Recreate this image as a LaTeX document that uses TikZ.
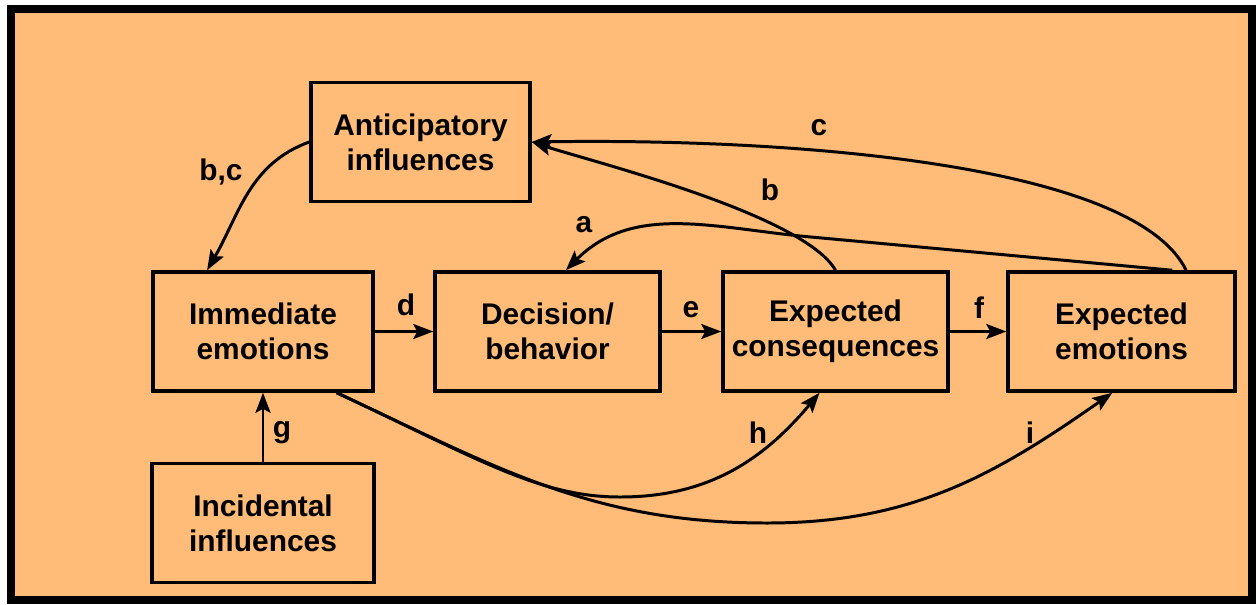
\documentclass[tikz,border=0pt]{standalone}
\usepackage{fontspec}
\setmainfont{Liberation Sans}
\usetikzlibrary{arrows.meta,positioning,calc}
\definecolor{scanorange}{HTML}{FFBB78}

\begin{document}
\begin{tikzpicture}[
  box/.style={draw, line width=2pt, minimum width=4.5cm, minimum height=2.38cm, align=center, inner sep=0pt, font=\bfseries\fontsize{17}{20}\selectfont},
  arr/.style={-{Stealth[length=0.4cm,width=0.3cm,inset=0.08cm]}, line width=1.7pt},
  lbl/.style={font=\bfseries\fontsize{17}{17}\selectfont, inner sep=1pt}
]
  \useasboundingbox (0,0) rectangle (25.12,12.08);
  \draw[line width=0.16cm, fill=scanorange] (0.22,0.08) rectangle (25.04,11.9);
  % boxes
  \node[box, minimum width=4.4cm] (imm) at (5.26,5.45) {Immediate\\emotions};
  \node[box, right=1.17cm of imm] (dec) {Decision/\\behavior};
  \node[box, right=1.19cm of dec] (cons) {Expected\\consequences};
  \node[box, right=1.13cm of cons, minimum width=4.54cm] (emo) {Expected\\emotions};
  \node[box, minimum width=4.38cm] (ant) at (8.41,9.24) {Anticipatory\\influences};
  \node[box, below=1.38cm of imm, minimum width=4.44cm] (inc) {Incidental\\influences};
  % connectors
  \draw[arr] (ant.west) to[out=200,in=60] ($(imm.north west)!0.25!(imm.north east)$);
  \draw[arr] (imm.east) -- (dec.west);
  \draw[arr] (dec.east) -- (cons.west);
  \draw[arr] (cons.east) -- (emo.west);
  \draw[arr] (inc.north) -- (inc.north |- imm.south);
  \draw[arr] ($(emo.north west)!0.72!(emo.north east)$) -- (16.0,7.36) to[out=174,in=45] ($(dec.north west)!0.58!(dec.north east)$);
  \draw[arr] (cons.north) to[out=120,in=-18,looseness=0.5] (ant.east);
  \draw[arr] ($(emo.north west)!0.78!(emo.north east)$) .. controls (22.7,8.78) and (16.0,9.32) .. (ant.east);
  \coordinate (low) at ($(imm.south west)!0.83!(imm.south east)$);
  \draw[arr] (low) .. controls (9.6,2.88) and (10.8,2.14) .. (12.4,2.14) to[out=0,in=230] ($(cons.south west)!0.43!(cons.south east)$);
  \draw[arr] (low) to[out=-25,in=180] (15.34,1.62) to[out=0,in=215] ($(emo.south west)!0.46!(emo.south east)$);
  % labels
  \node[lbl] (lbc) at (4.42,8.64) {b,c};
  \node[lbl] (la) at (11.68,7.58) {a};
  \node[lbl] (lb) at (15.4,8.28) {b};
  \node[lbl] (lc) at (16.38,9.52) {c};
  \node[lbl] (ld) at (8.12,5.98) {d};
  \node[lbl] (le) at (13.82,5.88) {e};
  \node[lbl] (lf) at (19.58,5.92) {f};
  \node[lbl] (lg) at (5.64,3.42) {g};
  \node[lbl] (lh) at (15.16,3.42) {h};
  \node[lbl] (li) at (20.6,3.42) {i};
\end{tikzpicture}
\end{document}
